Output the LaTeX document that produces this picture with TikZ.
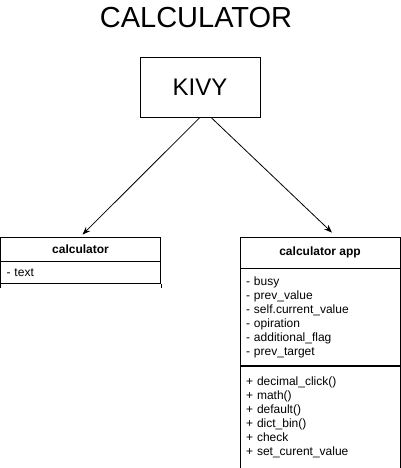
\documentclass[tikz,border=0pt]{standalone}
\usepackage{fontspec}
\setmainfont{Liberation Sans}
\usetikzlibrary{positioning}
\usetikzlibrary{arrows.meta}

\begin{document}
\begin{tikzpicture}[
        x=1pt, y=-1pt,
        line width=0.8pt,
        titlenode/.style={font=\fontsize{29}{32}\selectfont, inner sep=0pt},
        kivynode/.style={rectangle, draw=black, minimum width=120pt, minimum height=60pt, font=\fontsize{24}{28}\selectfont},
        headnode/.style={rectangle, draw=black, minimum width=160pt, inner sep=0pt, font=\fontsize{12}{14}\selectfont\bfseries},
        fieldnode/.style={rectangle, draw=black, text width=148pt, inner xsep=6pt, inner ysep=0pt, align=left, font=\fontsize{12}{14}\selectfont},
        node distance=0pt,
        >={Stealth[length=8pt,width=6pt]}
    ]
        \useasboundingbox (0,0) rectangle (401,468);

        \node[titlenode] (title) at (196,18) {CALCULATOR};
        \node[kivynode] (kivy) at (200,87) {KIVY};

        % left class
        \node[headnode, minimum height=24pt] (calc) at (80.5,249) {calculator};
        \node[fieldnode, minimum height=22pt] (calcattr) [below=of calc] {- text};
        \draw (calcattr.south west) -- ++(0,4);
        \draw (calcattr.south east) -- ++(0,4);

        % right class
        \node[headnode, minimum height=31pt] (app) at (320,252.5) {calculator app};
        \node[fieldnode, minimum height=97pt] (appattr) [below=of app]
            {- busy\\- prev\_value\\- self.current\_value\\- opiration\\- additional\_flag\\- prev\_target};
        \node[fieldnode, minimum height=102pt] (appmeth) [below=of appattr]
            {+ decimal\_click()\\+ math()\\+ default()\\+ dict\_bin()\\+ check\\+ set\_curent\_value};

        \path (kivy.south) edge[->] ([xshift=2pt,yshift=2pt]calc.north)
            ([xshift=11pt]kivy.south) edge[->] ([xshift=12pt,yshift=4pt]app.north);
    \end{tikzpicture}
\end{document}
